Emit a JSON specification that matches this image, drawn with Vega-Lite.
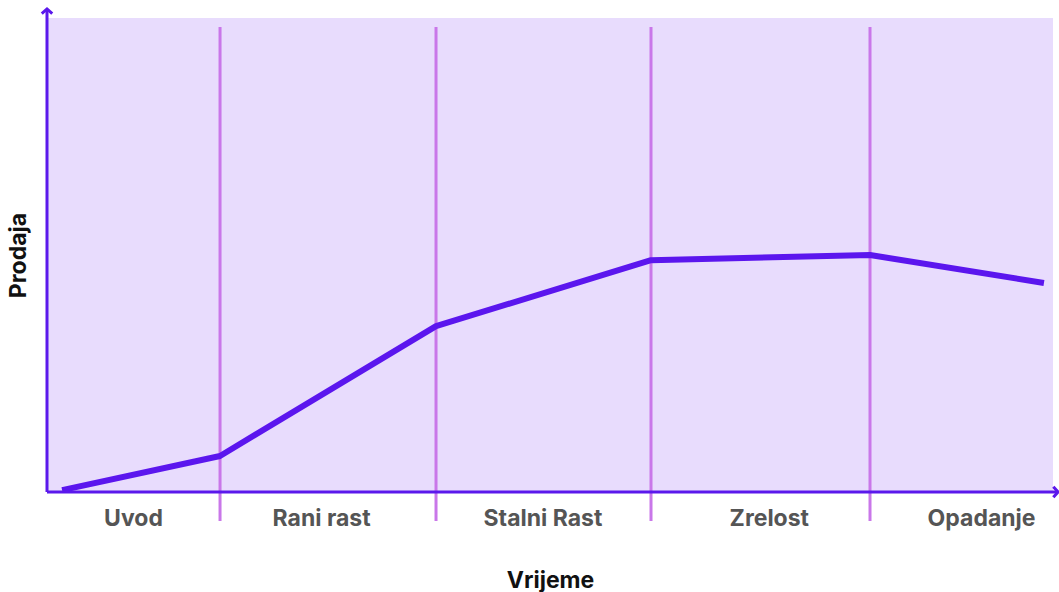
{
  "$schema": "https://vega.github.io/schema/vega-lite/v6.json",
  "width": 1006,
  "height": 474,
  "autosize": {"type": "none"},
  "padding": {"left": 47, "top": 18, "right": 6, "bottom": 100},
  "background": "white",
  "config": {"view": {"stroke": null}, "font": "Inter"},
  "datasets": {
    "sales": [
      {"t": 1.5, "prodaja": 0.4},
      {"t": 17.2, "prodaja": 7.6},
      {"t": 38.67, "prodaja": 35.0},
      {"t": 60.04, "prodaja": 48.9},
      {"t": 81.81, "prodaja": 50.0},
      {"t": 99.1, "prodaja": 44.1}
    ],
    "dividers": [
      {"t": 17.2, "y0": -6.1, "y1": 98.1},
      {"t": 38.67, "y0": -6.1, "y1": 98.1},
      {"t": 60.04, "y0": -6.1, "y1": 98.1},
      {"t": 81.81, "y0": -6.1, "y1": 98.1}
    ],
    "phases": [
      {"t": 8.6, "faza": "Uvod"},
      {"t": 27.3, "faza": "Rani rast"},
      {"t": 49.3, "faza": "Stalni Rast"},
      {"t": 71.8, "faza": "Zrelost"},
      {"t": 92.9, "faza": "Opadanje"}
    ],
    "bg": [{"x0": 0.1, "x1": 100, "y0": 0, "y1": 100}],
    "axes": [
      {"x0": 0, "x1": 100.5, "y0": 0, "y1": 0},
      {"x0": 0, "x1": 0, "y0": 0, "y1": 101.9}
    ],
    "arrows": [
      {"x": 100.5, "y": 0, "ang": 90},
      {"x": 0, "y": 101.9, "ang": 0}
    ]
  },
  "layer": [
    {
      "data": {"name": "bg"},
      "mark": {"type": "rect", "color": "#E8DCFD"},
      "encoding": {
        "x": {"field": "x0", "type": "quantitative", "scale": {"domain": [0, 100]},
              "axis": {"title": "Vrijeme", "labels": false, "ticks": false, "domain": false, "grid": false,
                       "titleFontSize": 23, "titleFontWeight": "bold", "titleColor": "#111", "titlePadding": 77}},
        "x2": {"field": "x1"},
        "y": {"field": "y0", "type": "quantitative", "scale": {"domain": [0, 100]},
              "axis": {"title": "Prodaja", "labels": false, "ticks": false, "domain": false, "grid": false,
                       "titleFontSize": 23, "titleFontWeight": "bold", "titleColor": "#111", "titlePadding": 17}},
        "y2": {"field": "y1"}
      }
    },
    {
      "data": {"name": "dividers"},
      "mark": {"type": "rule", "color": "#C977E9", "strokeWidth": 3, "clip": false},
      "encoding": {
        "x": {"field": "t", "type": "quantitative"},
        "y": {"field": "y0", "type": "quantitative"},
        "y2": {"field": "y1"}
      }
    },
    {
      "data": {"name": "axes"},
      "mark": {"type": "rule", "color": "#5B18EC", "strokeWidth": 3, "clip": false},
      "encoding": {
        "x": {"field": "x0", "type": "quantitative"},
        "x2": {"field": "x1"},
        "y": {"field": "y0", "type": "quantitative"},
        "y2": {"field": "y1"}
      }
    },
    {
      "data": {"name": "arrows"},
      "mark": {"type": "point", "shape": "M-1,0.9L0,0L1,0.9", "filled": false, "color": "#5B18EC", "strokeWidth": 3, "size": 110, "opacity": 1, "clip": false, "strokeJoin": "miter"},
      "encoding": {
        "x": {"field": "x", "type": "quantitative"},
        "y": {"field": "y", "type": "quantitative"},
        "angle": {"field": "ang", "type": "quantitative", "scale": null}
      }
    },
    {
      "data": {"name": "sales"},
      "mark": {"type": "line", "color": "#5B16EE", "strokeWidth": 6, "strokeJoin": "round", "clip": false},
      "encoding": {
        "x": {"field": "t", "type": "quantitative"},
        "y": {"field": "prodaja", "type": "quantitative"}
      }
    },
    {
      "data": {"name": "phases"},
      "mark": {"type": "text", "fontSize": 23, "fontWeight": "bold", "color": "#555555", "baseline": "middle", "align": "center", "clip": false},
      "encoding": {
        "x": {"field": "t", "type": "quantitative"},
        "y": {"datum": -5.6, "type": "quantitative"},
        "text": {"field": "faza"}
      }
    }
  ]
}
